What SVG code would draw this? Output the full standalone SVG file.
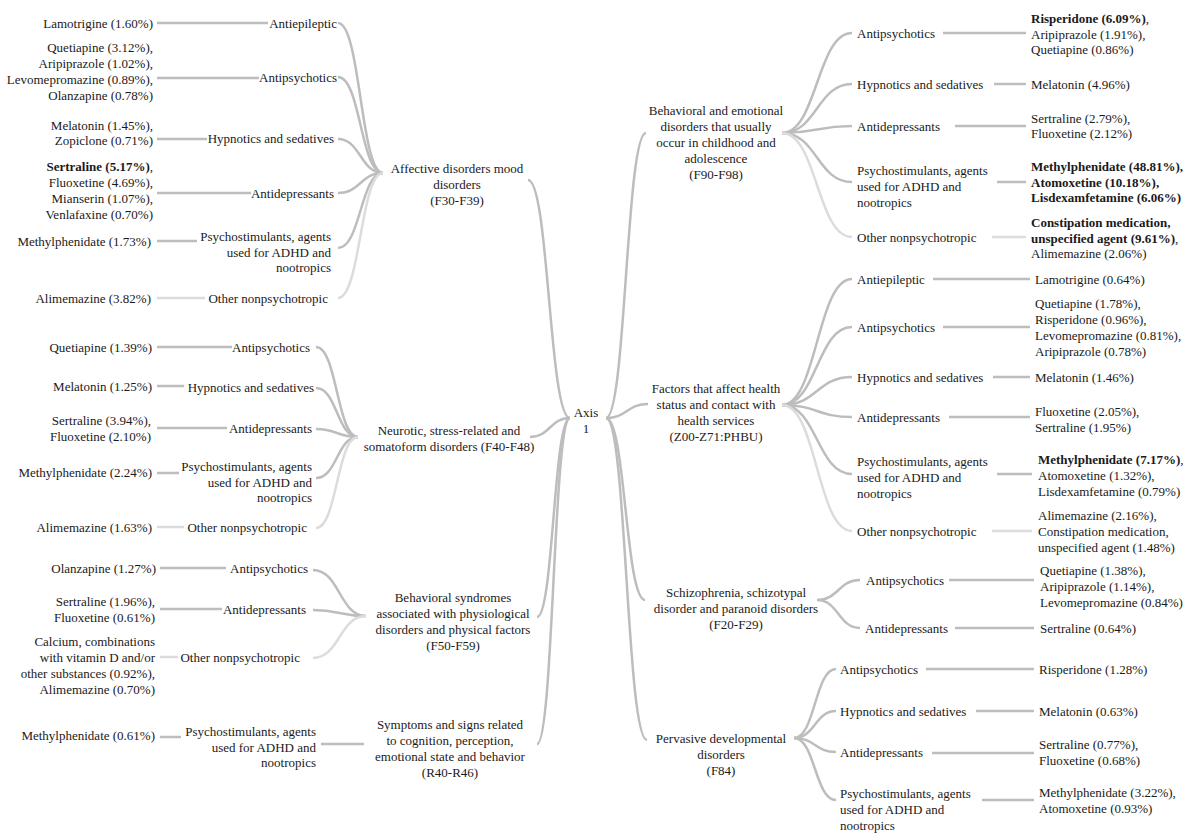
<svg xmlns="http://www.w3.org/2000/svg" width="1200" height="835" viewBox="0 0 1200 835">
<style>
.t{font-family:"Liberation Serif","Times New Roman",serif;font-size:13px;fill:#1a1a1a;dominant-baseline:central}
.e{text-anchor:end}.m{text-anchor:middle}
.b{font-weight:bold}
.c{fill:none;stroke:#bdbdbd;stroke-width:2.5}
.lt{fill:none;stroke:#dcdcdc;stroke-width:2.5}
</style>
<rect width="1200" height="835" fill="#fff"/>
<g id="connectors">
<!-- root left -->
<path class="c" d="M570,418 C549,418 549,180 528,180"/>
<path class="c" d="M570,418 C550,418 550,437 530,437"/>
<path class="c" d="M570,418 C553.5,418 553.5,617 537,617"/>
<path class="c" d="M570,418 C553.5,418 553.5,744 537,744"/>
<!-- root right -->
<path class="c" d="M606,418 C626,418 626,133 646,133"/>
<path class="c" d="M606,418 C627,418 627,404 648,404"/>
<path class="c" d="M606,418 C625.5,418 625.5,600 645,600"/>
<path class="c" d="M606,418 C626.5,418 626.5,740 647,740"/>
<!-- affective fan -->
<path class="c" d="M383,173 C360.5,173 360.5,23 338,23"/>
<path class="c" d="M383,173 C360.5,173 360.5,77 338,77"/>
<path class="c" d="M383,173 C360.5,173 360.5,139 338,139"/>
<path class="c" d="M383,173 C360.5,173 360.5,193 338,193"/>
<path class="c" d="M383,173 C360.5,173 360.5,248 338,248"/>
<path class="lt" d="M383,173 C360.5,173 360.5,298 338,298"/>
<path class="c" d="M157,23 H268"/>
<path class="c" d="M157,78 H259"/>
<path class="c" d="M157,139 H207"/>
<path class="c" d="M157,193 H251"/>
<path class="c" d="M157,241 H197"/>
<path class="lt" d="M157,298 H205"/>
<!-- neurotic fan -->
<path class="c" d="M358,437 C337,437 337,347 316,347"/>
<path class="c" d="M358,437 C337,437 337,388 316,388"/>
<path class="c" d="M358,437 C337,437 337,429 316,429"/>
<path class="c" d="M358,437 C337,437 337,478 316,478"/>
<path class="lt" d="M358,437 C337,437 337,528 316,528"/>
<path class="c" d="M157,347 H232"/>
<path class="c" d="M157,386 H184"/>
<path class="c" d="M157,428 H227"/>
<path class="c" d="M157,473 H179"/>
<path class="lt" d="M157,527 H184"/>
<!-- behavioral syndromes fan -->
<path class="c" d="M366,616 C339.5,616 339.5,570 313,570"/>
<path class="c" d="M366,616 C339.5,616 339.5,610 313,610"/>
<path class="lt" d="M366,616 C339.5,616 339.5,658 313,658"/>
<path class="c" d="M160,568 H226"/>
<path class="c" d="M160,609 H222"/>
<path class="lt" d="M160,657 H178"/>
<!-- symptoms -->
<path class="c" d="M321,744 H364"/>
<path class="c" d="M160,737 H181"/>
<!-- behavioral & emotional fan -->
<path class="c" d="M782,133 C817,133 817,33 852,33"/>
<path class="c" d="M782,133 C817,133 817,84 852,84"/>
<path class="c" d="M782,133 C817,133 817,126 852,126"/>
<path class="c" d="M782,133 C817,133 817,182 852,182"/>
<path class="lt" d="M782,133 C817,133 817,237 852,237"/>
<path class="c" d="M943,33 H1026"/>
<path class="c" d="M994,84 H1026"/>
<path class="c" d="M955,126 H1026"/>
<path class="c" d="M997,182 H1026"/>
<path class="lt" d="M992,237 H1026"/>
<!-- factors fan -->
<path class="c" d="M782,405 C817,405 817,279 852,279"/>
<path class="c" d="M782,405 C817,405 817,327 852,327"/>
<path class="c" d="M782,405 C817,405 817,377 852,377"/>
<path class="c" d="M782,405 C817,405 817,417 852,417"/>
<path class="c" d="M782,405 C817,405 817,474 852,474"/>
<path class="lt" d="M782,405 C817,405 817,531 852,531"/>
<path class="c" d="M933,279 H1030"/>
<path class="c" d="M943,327 H1030"/>
<path class="c" d="M993,377 H1030"/>
<path class="c" d="M949,417 H1030"/>
<path class="c" d="M997,474 H1032"/>
<path class="lt" d="M992,531 H1032"/>
<!-- schizophrenia fan -->
<path class="c" d="M817,600 C838.5,600 838.5,580 860,580"/>
<path class="c" d="M817,600 C838.5,600 838.5,628 860,628"/>
<path class="c" d="M949,580 H1034"/>
<path class="c" d="M955,628 H1034"/>
<!-- pervasive fan -->
<path class="c" d="M794,738 C815,738 815,669 836,669"/>
<path class="c" d="M794,738 C815,738 815,711 836,711"/>
<path class="c" d="M794,738 C815,738 815,752 836,752"/>
<path class="c" d="M794,738 C815,738 815,800 836,800"/>
<path class="c" d="M926,669 H1034"/>
<path class="c" d="M976,711 H1034"/>
<path class="c" d="M932,753 H1034"/>
<path class="c" d="M982,800 H1034"/>
</g>

<g id="root"><text class="t m" x="586"><tspan x="586" y="412">Axis</tspan><tspan x="586" y="428">1</tspan></text></g>

<!-- Affective -->
<g id="affective"><text class="t m"><tspan x="457" y="168">Affective disorders mood</tspan><tspan x="457" y="184">disorders</tspan><tspan x="457" y="200">(F30-F39)</tspan></text></g>
<g id="aff-antiepileptic"><text class="t e" x="337" y="23">Antiepileptic</text></g>
<g id="aff-antipsychotics"><text class="t e" x="337" y="77">Antipsychotics</text></g>
<g id="aff-hypnotics"><text class="t e" x="334" y="138">Hypnotics and sedatives</text></g>
<g id="aff-antidepressants"><text class="t e" x="334" y="193">Antidepressants</text></g>
<g id="aff-psychostim"><text class="t e"><tspan x="331" y="236">Psychostimulants, agents</tspan><tspan x="331" y="252">used for ADHD and</tspan><tspan x="331" y="267">nootropics</tspan></text></g>
<g id="aff-other"><text class="t e" x="328" y="298">Other nonpsychotropic</text></g>
<g id="aff-leaf1"><text class="t e" x="153" y="23">Lamotrigine (1.60%)</text></g>
<g id="aff-leaf2"><text class="t e"><tspan x="153" y="47">Quetiapine (3.12%),</tspan><tspan x="153" y="63">Aripiprazole (1.02%),</tspan><tspan x="153" y="79">Levomepromazine (0.89%),</tspan><tspan x="153" y="95">Olanzapine (0.78%)</tspan></text></g>
<g id="aff-leaf3"><text class="t e"><tspan x="153" y="125">Melatonin (1.45%),</tspan><tspan x="153" y="140">Zopiclone (0.71%)</tspan></text></g>
<g id="aff-leaf4"><text class="t e"><tspan x="153" y="166"><tspan class="b">Sertraline (5.17%)</tspan>,</tspan><tspan x="153" y="182">Fluoxetine (4.69%),</tspan><tspan x="153" y="198">Mianserin (1.07%),</tspan><tspan x="153" y="214">Venlafaxine (0.70%)</tspan></text></g>
<g id="aff-leaf5"><text class="t e" x="151" y="241">Methylphenidate (1.73%)</text></g>
<g id="aff-leaf6"><text class="t e" x="151" y="298">Alimemazine (3.82%)</text></g>

<!-- Neurotic -->
<g id="neurotic"><text class="t m"><tspan x="449" y="430">Neurotic, stress-related and</tspan><tspan x="449" y="446">somatoform disorders (F40-F48)</tspan></text></g>
<g id="neu-antipsychotics"><text class="t e" x="310" y="347">Antipsychotics</text></g>
<g id="neu-hypnotics"><text class="t e" x="314" y="387">Hypnotics and sedatives</text></g>
<g id="neu-antidepressants"><text class="t e" x="312" y="428">Antidepressants</text></g>
<g id="neu-psychostim"><text class="t e"><tspan x="312" y="466">Psychostimulants, agents</tspan><tspan x="312" y="482">used for ADHD and</tspan><tspan x="312" y="497">nootropics</tspan></text></g>
<g id="neu-other"><text class="t e" x="307" y="527">Other nonpsychotropic</text></g>
<g id="neu-leaf1"><text class="t e" x="152" y="347">Quetiapine (1.39%)</text></g>
<g id="neu-leaf2"><text class="t e" x="152" y="386">Melatonin (1.25%)</text></g>
<g id="neu-leaf3"><text class="t e"><tspan x="151" y="420">Sertraline (3.94%),</tspan><tspan x="151" y="436">Fluoxetine (2.10%)</tspan></text></g>
<g id="neu-leaf4"><text class="t e" x="152" y="472">Methylphenidate (2.24%)</text></g>
<g id="neu-leaf5"><text class="t e" x="152" y="527">Alimemazine (1.63%)</text></g>

<!-- Behavioral syndromes -->
<g id="behav-synd"><text class="t m"><tspan x="453" y="597">Behavioral syndromes</tspan><tspan x="453" y="613">associated with physiological</tspan><tspan x="453" y="629">disorders and physical factors</tspan><tspan x="453" y="645">(F50-F59)</tspan></text></g>
<g id="bs-antipsychotics"><text class="t e" x="308" y="568">Antipsychotics</text></g>
<g id="bs-antidepressants"><text class="t e" x="306" y="609">Antidepressants</text></g>
<g id="bs-other"><text class="t e" x="300" y="657">Other nonpsychotropic</text></g>
<g id="bs-leaf1"><text class="t e" x="156" y="568">Olanzapine (1.27%)</text></g>
<g id="bs-leaf2"><text class="t e"><tspan x="155" y="601">Sertraline (1.96%),</tspan><tspan x="155" y="617">Fluoxetine (0.61%)</tspan></text></g>
<g id="bs-leaf3"><text class="t e"><tspan x="155" y="641">Calcium, combinations</tspan><tspan x="155" y="657">with vitamin D and/or</tspan><tspan x="155" y="673">other substances (0.92%),</tspan><tspan x="155" y="689">Alimemazine (0.70%)</tspan></text></g>

<!-- Symptoms -->
<g id="symptoms"><text class="t m"><tspan x="450" y="724">Symptoms and signs related</tspan><tspan x="450" y="740">to cognition, perception,</tspan><tspan x="450" y="756">emotional state and behavior</tspan><tspan x="450" y="772">(R40-R46)</tspan></text></g>
<g id="sym-psychostim"><text class="t e"><tspan x="316" y="731">Psychostimulants, agents</tspan><tspan x="316" y="747">used for ADHD and</tspan><tspan x="316" y="762">nootropics</tspan></text></g>
<g id="sym-leaf1"><text class="t e" x="155" y="735">Methylphenidate (0.61%)</text></g>

<!-- Behavioral and emotional -->
<g id="behav-emo"><text class="t m"><tspan x="716" y="110">Behavioral and emotional</tspan><tspan x="716" y="126">disorders that usually</tspan><tspan x="716" y="142">occur in childhood and</tspan><tspan x="716" y="158">adolescence</tspan><tspan x="716" y="174">(F90-F98)</tspan></text></g>
<g id="be-antipsychotics"><text class="t" x="857" y="33">Antipsychotics</text></g>
<g id="be-hypnotics"><text class="t" x="857" y="84">Hypnotics and sedatives</text></g>
<g id="be-antidepressants"><text class="t" x="857" y="126">Antidepressants</text></g>
<g id="be-psychostim"><text class="t"><tspan x="857" y="170">Psychostimulants, agents</tspan><tspan x="857" y="186">used for ADHD and</tspan><tspan x="857" y="202">nootropics</tspan></text></g>
<g id="be-other"><text class="t" x="857" y="237">Other nonpsychotropic</text></g>
<g id="be-leaf1"><text class="t"><tspan x="1031" y="18"><tspan class="b">Risperidone (6.09%)</tspan>,</tspan><tspan x="1031" y="34">Aripiprazole (1.91%),</tspan><tspan x="1031" y="49">Quetiapine (0.86%)</tspan></text></g>
<g id="be-leaf2"><text class="t" x="1031" y="84">Melatonin (4.96%)</text></g>
<g id="be-leaf3"><text class="t"><tspan x="1031" y="118">Sertraline (2.79%),</tspan><tspan x="1031" y="133">Fluoxetine (2.12%)</tspan></text></g>
<g id="be-leaf4"><text class="t b"><tspan x="1031" y="166">Methylphenidate (48.81%),</tspan><tspan x="1031" y="182">Atomoxetine (10.18%),</tspan><tspan x="1031" y="197">Lisdexamfetamine (6.06%)</tspan></text></g>
<g id="be-leaf5"><text class="t"><tspan x="1031" y="222" class="b">Constipation medication,</tspan><tspan x="1031" y="238"><tspan class="b">unspecified agent (9.61%)</tspan>,</tspan><tspan x="1031" y="253">Alimemazine (2.06%)</tspan></text></g>

<!-- Factors -->
<g id="factors"><text class="t m"><tspan x="716" y="388">Factors that affect health</tspan><tspan x="716" y="404">status and contact with</tspan><tspan x="716" y="420">health services</tspan><tspan x="716" y="436">(Z00-Z71:PHBU)</tspan></text></g>
<g id="fa-antiepileptic"><text class="t" x="857" y="279">Antiepileptic</text></g>
<g id="fa-antipsychotics"><text class="t" x="857" y="327">Antipsychotics</text></g>
<g id="fa-hypnotics"><text class="t" x="857" y="377">Hypnotics and sedatives</text></g>
<g id="fa-antidepressants"><text class="t" x="857" y="417">Antidepressants</text></g>
<g id="fa-psychostim"><text class="t"><tspan x="857" y="461">Psychostimulants, agents</tspan><tspan x="857" y="477">used for ADHD and</tspan><tspan x="857" y="493">nootropics</tspan></text></g>
<g id="fa-other"><text class="t" x="857" y="531">Other nonpsychotropic</text></g>
<g id="fa-leaf1"><text class="t" x="1035" y="279">Lamotrigine (0.64%)</text></g>
<g id="fa-leaf2"><text class="t"><tspan x="1035" y="303">Quetiapine (1.78%),</tspan><tspan x="1035" y="319">Risperidone (0.96%),</tspan><tspan x="1035" y="335">Levomepromazine (0.81%),</tspan><tspan x="1035" y="351">Aripiprazole (0.78%)</tspan></text></g>
<g id="fa-leaf3"><text class="t" x="1035" y="377">Melatonin (1.46%)</text></g>
<g id="fa-leaf4"><text class="t"><tspan x="1035" y="411">Fluoxetine (2.05%),</tspan><tspan x="1035" y="427">Sertraline (1.95%)</tspan></text></g>
<g id="fa-leaf5"><text class="t"><tspan x="1038" y="459"><tspan class="b">Methylphenidate (7.17%)</tspan>,</tspan><tspan x="1038" y="475">Atomoxetine (1.32%),</tspan><tspan x="1038" y="491">Lisdexamfetamine (0.79%)</tspan></text></g>
<g id="fa-leaf6"><text class="t"><tspan x="1038" y="515">Alimemazine (2.16%),</tspan><tspan x="1038" y="531">Constipation medication,</tspan><tspan x="1038" y="547">unspecified agent (1.48%)</tspan></text></g>

<!-- Schizophrenia -->
<g id="schizo"><text class="t m"><tspan x="736" y="592">Schizophrenia, schizotypal</tspan><tspan x="736" y="608">disorder and paranoid disorders</tspan><tspan x="736" y="624">(F20-F29)</tspan></text></g>
<g id="sc-antipsychotics"><text class="t" x="866" y="580">Antipsychotics</text></g>
<g id="sc-antidepressants"><text class="t" x="865" y="628">Antidepressants</text></g>
<g id="sc-leaf1"><text class="t"><tspan x="1040" y="570">Quetiapine (1.38%),</tspan><tspan x="1040" y="586">Aripiprazole (1.14%),</tspan><tspan x="1040" y="602">Levomepromazine (0.84%)</tspan></text></g>
<g id="sc-leaf2"><text class="t" x="1040" y="628">Sertraline (0.64%)</text></g>

<!-- Pervasive -->
<g id="pervasive"><text class="t m"><tspan x="721" y="738">Pervasive developmental</tspan><tspan x="721" y="754">disorders</tspan><tspan x="721" y="770">(F84)</tspan></text></g>
<g id="pd-antipsychotics"><text class="t" x="840" y="669">Antipsychotics</text></g>
<g id="pd-hypnotics"><text class="t" x="840" y="711">Hypnotics and sedatives</text></g>
<g id="pd-antidepressants"><text class="t" x="840" y="752">Antidepressants</text></g>
<g id="pd-psychostim"><text class="t"><tspan x="840" y="793">Psychostimulants, agents</tspan><tspan x="840" y="809">used for ADHD and</tspan><tspan x="840" y="825">nootropics</tspan></text></g>
<g id="pd-leaf1"><text class="t" x="1039" y="669">Risperidone (1.28%)</text></g>
<g id="pd-leaf2"><text class="t" x="1039" y="711">Melatonin (0.63%)</text></g>
<g id="pd-leaf3"><text class="t"><tspan x="1039" y="744">Sertraline (0.77%),</tspan><tspan x="1039" y="760">Fluoxetine (0.68%)</tspan></text></g>
<g id="pd-leaf4"><text class="t"><tspan x="1039" y="792">Methylphenidate (3.22%),</tspan><tspan x="1039" y="808">Atomoxetine (0.93%)</tspan></text></g>
</svg>
